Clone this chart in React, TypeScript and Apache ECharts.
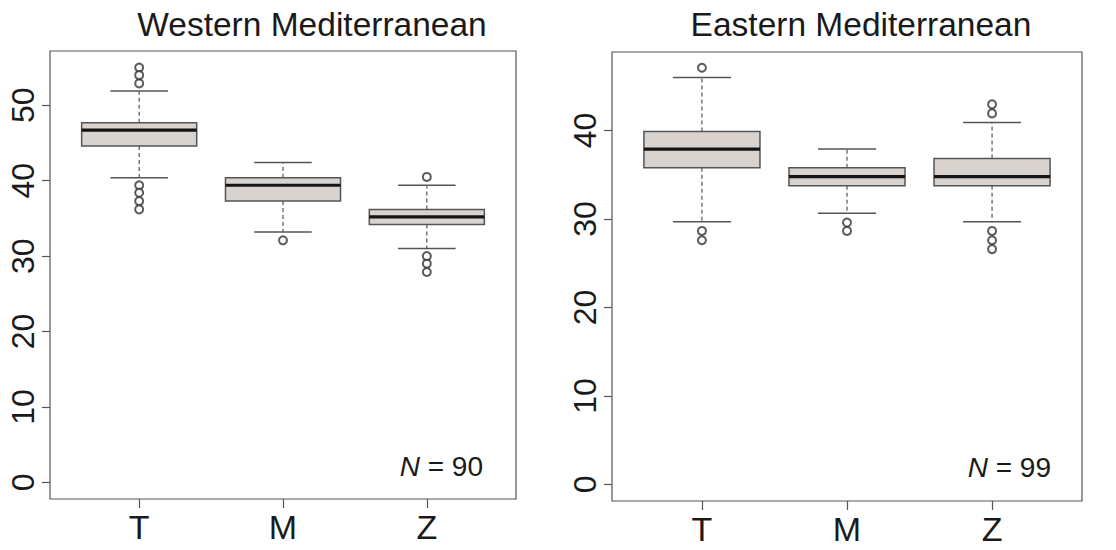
import React, { useEffect, useRef } from "react";
import * as echarts from "echarts";

const categories = ["T", "M", "Z"];
const categoryPositions = [1, 2, 3];

const westTitle = "Western Mediterranean";
const eastTitle = "Eastern Mediterranean";
const westN = 90;
const eastN = 99;

// [lower whisker, Q1, median, Q3, upper whisker]
const westStats = [
  [40.4, 44.6, 46.7, 47.7, 51.9],
  [33.2, 37.3, 39.4, 40.4, 42.4],
  [31.0, 34.2, 35.2, 36.2, 39.4],
];
const westOutliersT = [55.0, 54.0, 52.9, 39.4, 38.4, 37.3, 36.2];
const westOutliersM = [32.1];
const westOutliersZ = [40.5, 30.0, 29.0, 27.9];

const eastStats = [
  [29.7, 35.8, 37.9, 39.9, 46.0],
  [30.65, 33.75, 34.8, 35.8, 37.9],
  [29.7, 33.75, 34.8, 36.85, 40.9],
];
const eastOutliersT = [47.1, 28.65, 27.6];
const eastOutliersM = [29.6, 28.65];
const eastOutliersZ = [42.96, 41.94, 28.65, 27.6, 26.6];

const westYTicks = [0, 10, 20, 30, 40, 50];
const eastYTicks = [0, 10, 20, 30, 40];
const westYLim = [0, 55];
const eastYLim = [0, 47];

const TEXT = "#1a1a1a";
const LINE = "#555555";
const FILL = "#d8d3cf";

function boxData(stats: number[][]) {
  return stats.map((s, i) => [categoryPositions[i], ...s]);
}
function outlierData(groups: number[][]) {
  const out: number[][] = [];
  groups.forEach((g, i) => g.forEach((v) => out.push([categoryPositions[i], v])));
  return out;
}
function ext(lim: number[]) {
  const d = (lim[1] - lim[0]) * 0.04;
  return [lim[0] - d, lim[1] + d];
}

const renderBox = (params: any, api: any) => {
  const x = api.value(0);
  const lo = api.coord([x, api.value(1)]);
  const q1 = api.coord([x, api.value(2)]);
  const med = api.coord([x, api.value(3)]);
  const q3 = api.coord([x, api.value(4)]);
  const hi = api.coord([x, api.value(5)]);
  const cx = lo[0];
  const hb = api.size([0.4, 0])[0];
  const hc = api.size([0.2, 0])[0];
  const dash = { stroke: LINE, lineWidth: 1.2, lineDash: [4, 3] };
  const solid = { stroke: LINE, lineWidth: 1.5 };
  return {
    type: "group",
    children: [
      { type: "line", shape: { x1: cx, y1: q3[1], x2: cx, y2: hi[1] }, style: dash },
      { type: "line", shape: { x1: cx, y1: q1[1], x2: cx, y2: lo[1] }, style: dash },
      { type: "line", shape: { x1: cx - hc, y1: hi[1], x2: cx + hc, y2: hi[1] }, style: solid },
      { type: "line", shape: { x1: cx - hc, y1: lo[1], x2: cx + hc, y2: lo[1] }, style: solid },
      {
        type: "rect",
        shape: { x: cx - hb, y: q3[1], width: hb * 2, height: q1[1] - q3[1] },
        style: { fill: FILL, stroke: LINE, lineWidth: 1.5 },
      },
      {
        type: "line",
        shape: { x1: cx - hb, y1: med[1], x2: cx + hb, y2: med[1] },
        style: { stroke: "#141414", lineWidth: 3.2 },
      },
    ],
  };
};

function xAxis(gridIndex: number) {
  return {
    type: "value",
    gridIndex,
    position: "bottom",
    min: 0.38,
    max: 3.62,
    axisLine: { show: false, onZero: false },
    splitLine: { show: false },
    axisTick: { show: true, customValues: categoryPositions, length: 9, lineStyle: { color: LINE, width: 1.2 } },
    axisLabel: {
      show: true,
      customValues: categoryPositions,
      formatter: (v: number) => categories[Math.round(v) - 1],
      fontSize: 34,
      fontFamily: "Liberation Sans, Arial, sans-serif",
      color: TEXT,
      margin: 11,
    },
  };
}
function yAxis(gridIndex: number, lim: number[], ticks: number[]) {
  const e = ext(lim);
  return {
    type: "value",
    gridIndex,
    position: "left",
    min: e[0],
    max: e[1],
    axisLine: { show: false, onZero: false },
    splitLine: { show: false },
    axisTick: { show: true, customValues: ticks, length: 8, lineStyle: { color: LINE, width: 1.2 } },
    axisLabel: {
      show: true,
      customValues: ticks,
      rotate: 90,
      fontSize: 32,
      fontFamily: "Liberation Sans, Arial, sans-serif",
      color: TEXT,
      margin: 11,
    },
  };
}

export default function App() {
  const ref = useRef<HTMLDivElement>(null);
  useEffect(() => {
    if (!ref.current) return;
    const chart = echarts.init(ref.current, null, { renderer: "svg" });
    const font = "Liberation Sans, Arial, sans-serif";
    chart.setOption({
      animation: false,
      backgroundColor: "#ffffff",
      grid: [
        { left: 50, top: 51, width: 466, height: 448, show: true, borderColor: LINE, borderWidth: 1.2, backgroundColor: "transparent" },
        { left: 612, top: 52, width: 470, height: 449, show: true, borderColor: LINE, borderWidth: 1.2, backgroundColor: "transparent" },
      ],
      xAxis: [xAxis(0), xAxis(1)],
      yAxis: [yAxis(0, westYLim, westYTicks), yAxis(1, eastYLim, eastYTicks)],
      series: [
        {
          type: "custom",
          xAxisIndex: 0,
          yAxisIndex: 0,
          renderItem: renderBox,
          encode: { x: 0, y: [1, 2, 3, 4, 5] },
          data: boxData(westStats),
        },
        {
          type: "scatter",
          xAxisIndex: 0,
          yAxisIndex: 0,
          symbol: "emptyCircle",
          symbolSize: 8,
          itemStyle: { color: "#333333", borderColor: "#333333", borderWidth: 1.3 },
          data: outlierData([westOutliersT, westOutliersM, westOutliersZ]),
        },
        {
          type: "custom",
          xAxisIndex: 1,
          yAxisIndex: 1,
          renderItem: renderBox,
          encode: { x: 0, y: [1, 2, 3, 4, 5] },
          data: boxData(eastStats),
        },
        {
          type: "scatter",
          xAxisIndex: 1,
          yAxisIndex: 1,
          symbol: "emptyCircle",
          symbolSize: 8,
          itemStyle: { color: "#333333", borderColor: "#333333", borderWidth: 1.3 },
          data: outlierData([eastOutliersT, eastOutliersM, eastOutliersZ]),
        },
      ],
      graphic: [
        {
          type: "text",
          x: 312,
          y: 24,
          style: { text: westTitle, fontSize: 33.5, fontFamily: font, fill: TEXT, textAlign: "center", textVerticalAlign: "middle" },
        },
        {
          type: "text",
          x: 861,
          y: 24,
          style: { text: eastTitle, fontSize: 33.5, fontFamily: font, fill: TEXT, textAlign: "center", textVerticalAlign: "middle" },
        },
        {
          type: "text",
          x: 483,
          y: 466,
          style: {
            text: "{i|N} = " + westN,
            rich: { i: { fontStyle: "italic", fontSize: 28, fontFamily: font, fill: TEXT } },
            fontSize: 28,
            fontFamily: font,
            fill: TEXT,
            textAlign: "right",
            textVerticalAlign: "middle",
          },
        },
        {
          type: "text",
          x: 1051,
          y: 467,
          style: {
            text: "{i|N} = " + eastN,
            rich: { i: { fontStyle: "italic", fontSize: 28, fontFamily: font, fill: TEXT } },
            fontSize: 28,
            fontFamily: font,
            fill: TEXT,
            textAlign: "right",
            textVerticalAlign: "middle",
          },
        },
      ],
    });
    return () => chart.dispose();
  }, []);
  return <div ref={ref} style={{ position: "fixed", left: 0, top: 0, width: 1116, height: 550 }} />;
}
